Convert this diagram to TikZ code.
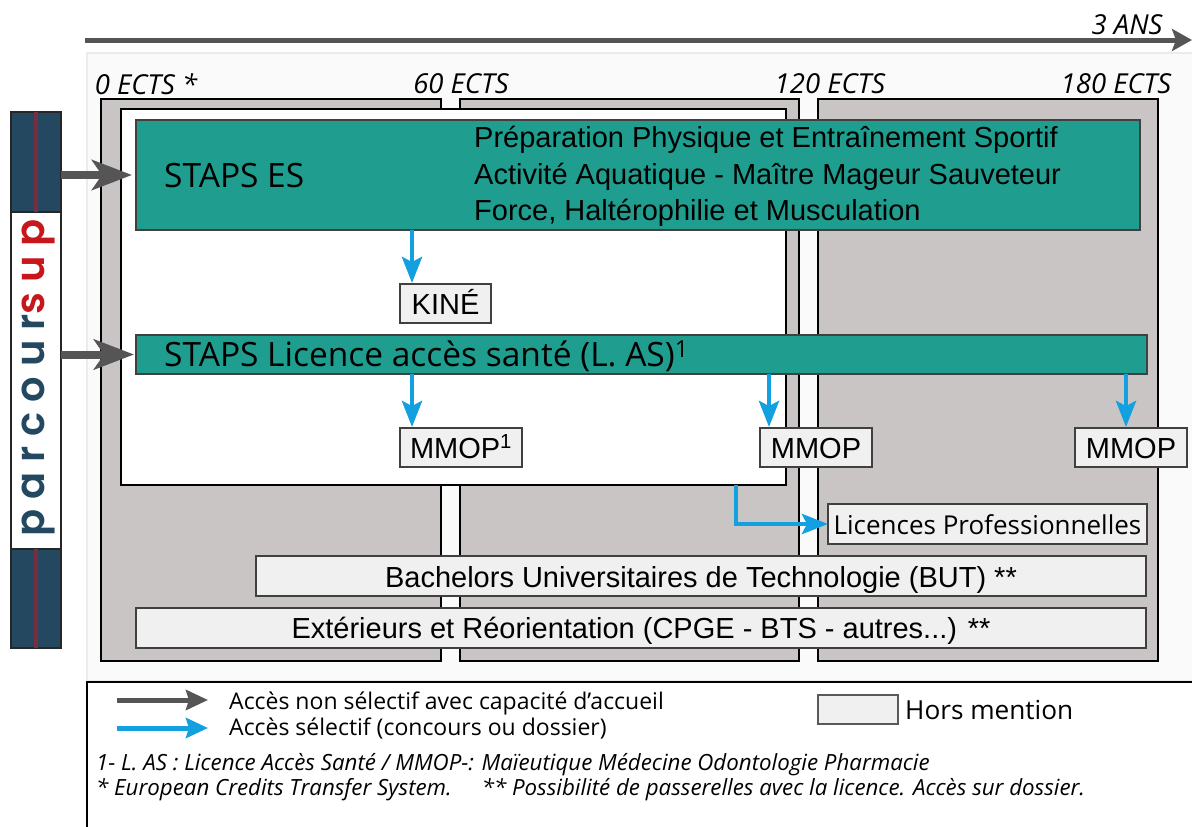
\documentclass[tikz,border=0pt]{standalone}
\usepackage{fontspec}
\setmainfont{Liberation Sans}
\newfontfamily\labelfont{Open Sans}
\newfontfamily\logofont[LetterSpace=25,BoldFont={Poppins SemiBold}]{Poppins}
\usetikzlibrary{arrows.meta}

\definecolor{columngray}{HTML}{C9C5C4}
\definecolor{panelgray}{HTML}{FAFAFA}
\definecolor{stapsgreen}{HTML}{1F9E8F}
\definecolor{mentiongray}{HTML}{F0F0F0}
\definecolor{accessgray}{HTML}{555555}
\definecolor{accessblue}{HTML}{12A0E0}
\definecolor{logoblue}{HTML}{24485F}
\definecolor{logored}{HTML}{C8161D}
\definecolor{logoline}{HTML}{7A2D3F}

\tikzset{
  plainbox/.style={draw,inner sep=0pt,outer sep=0pt,line width=2pt},
  column/.style={plainbox,fill=columngray},
  stapsbox/.style={plainbox,fill=stapsgreen,draw=black!75},
  mentionbox/.style={plainbox,fill=mentiongray,draw=black!75,text height=21pt,text depth=0pt,font=\fontsize{29}{34}\selectfont},
  logobox/.style={plainbox,fill=logoblue,draw=black!85},
  grayarrow/.style={accessgray,line width=8pt,-{Stealth[length=40pt,width=30pt,inset=10pt]}},
  bluearrow/.style={accessblue,line width=4.5pt,-{Stealth[length=26pt,width=20pt,inset=5pt]}},
  ectslabel/.style={inner sep=0pt,font=\labelfont\itshape\fontsize{27.5}{32}\selectfont},
  stapslabel/.style={inner sep=0pt,anchor=west,font=\labelfont\fontsize{33.5}{40}\selectfont},
  trainlabel/.style={inner sep=0pt,anchor=west,font=\fontsize{29}{34}\selectfont},
  legendlabel/.style={inner sep=0pt,anchor=west,font=\labelfont\fontsize{23}{28}\selectfont},
  notelabel/.style={inner sep=0pt,anchor=west,font=\labelfont\itshape\fontsize{22.3}{26}\selectfont},
}

\begin{document}
\begin{tikzpicture}[x=1pt,y=-1pt]
  \useasboundingbox (0,0) rectangle (1192,827);

  %% panels
  \node[plainbox,draw=black!8,fill=panelgray,minimum width=1110pt,minimum height=628pt] (panel) at (642,367) {};
  \node[plainbox,fill=white,minimum width=1110pt,minimum height=150pt] (legend) at (642,757) {};

  %% time line
  \coordinate (lineStart) at (85,40);
  \coordinate (lineEnd) at (1192,40);
  \draw[accessgray,line width=5pt,-{Stealth[length=20pt,width=22pt,inset=4pt]}] (lineStart) -- (lineEnd);
  \node[ectslabel] (years) at (1127,25) {3 ANS};

  %% columns
  \node[column,minimum width=340pt,minimum height=562pt] (first) at (271,380) {};
  \node[column,minimum width=339pt,minimum height=562pt] (second) at (629.5,380) {};
  \node[column,minimum width=340pt,minimum height=562pt] (third) at (988,380) {};
  \node[plainbox,fill=white,minimum width=665pt,minimum height=376pt] (inner) at (453.5,297) {};

  \node[ectslabel] (ectsA) at (146,84) {0 ECTS *};
  \node[ectslabel] (ectsB) at (461,84) {60 ECTS};
  \node[ectslabel] (ectsC) at (830,84) {120 ECTS};
  \node[ectslabel] (ectsD) at (1116,84) {180 ECTS};

  %% parcoursup
  \node[plainbox,fill=white,draw=black!85,minimum width=50pt,minimum height=536pt] (parcours) at (36,380) {};
  \node[logobox,minimum width=50pt,minimum height=100pt] (logoTop) at (36,162) {};
  \node[logobox,minimum width=50pt,minimum height=99pt] (logoBottom) at (36,598.5) {};
  \draw[logoline,line width=3.5pt] (logoTop.north) -- (logoTop.south);
  \draw[logoline,line width=3.5pt] (logoBottom.north) -- (logoBottom.south);
  \node[rotate=90,inner sep=0pt,font=\logofont\bfseries\fontsize{40}{48}\selectfont] (logo) at (39,378)
  {\textcolor{logoblue}{parcour}\textcolor{logored}{sup}};

  %% staps
  \node[stapsbox,minimum width=1004pt,minimum height=110pt] (stapsES) at (638,175) {};
  \node[stapsbox,minimum width=1011pt,minimum height=39pt] (stapsLAS) at (641.5,354.5) {};
  \node[stapslabel] (esLabel) at (164,176) {STAPS ES};
  \node[stapslabel] (lasLabel) at (164,356) {STAPS Licence accès santé (L. AS)\textsuperscript{1}};
  \node[trainlabel] (trainA) at (474,140) {Préparation Physique et Entraînement Sportif};
  \node[trainlabel] (trainB) at (474,177) {Activité Aquatique - Maître Mageur Sauveteur};
  \node[trainlabel] (trainC) at (474,213) {Force, Haltérophilie et Musculation};

  %% outcomes
  \node[mentionbox,minimum width=91pt,minimum height=39pt] (kine) at (445.5,303.5) {KINÉ};
  \node[mentionbox,minimum width=122pt,minimum height=39pt] (mmopA) at (461,447.5) {MMOP\textsuperscript{1}};
  \node[mentionbox,minimum width=112pt,minimum height=39pt] (mmopB) at (816,447.5) {MMOP};
  \node[mentionbox,minimum width=112pt,minimum height=39pt] (mmopC) at (1131,447.5) {MMOP};
  \node[mentionbox,minimum width=319pt,minimum height=40pt,font=\labelfont\fontsize{26}{30}\selectfont] (licpro) at (987.5,524) {Licences Professionnelles};
  \node[mentionbox,minimum width=890pt,minimum height=40pt,text height=23pt] (but) at (701,576) {Bachelors Universitaires de Technologie (BUT) **};
  \node[mentionbox,minimum width=1010pt,minimum height=40pt,text height=21pt] (other) at (641,628) {Extérieurs et Réorientation (CPGE - BTS - autres...) **};

  %% access arrows
  \draw[grayarrow,shorten >=4pt] (parcours.east |- stapsES) -- (stapsES.west);
  \draw[grayarrow,shorten >=2pt] (parcours.east |- stapsLAS) -- (stapsLAS.west);

  \coordinate (kineIn) at (412,284);
  \coordinate (mmopInA) at (412,428);
  \coordinate (mmopInB) at (769,428);
  \coordinate (mmopInC) at (1126,428);
  \coordinate (licproOut) at (736,485);
  \draw[bluearrow,shorten >=1pt] (stapsES.south -| kineIn) -- (kineIn);
  \draw[bluearrow,shorten >=1pt] (stapsLAS.south -| mmopInA) -- (mmopInA);
  \draw[bluearrow,shorten >=1pt] (stapsLAS.south -| mmopInB) -- (mmopInB);
  \draw[bluearrow,shorten >=1pt] (stapsLAS.south -| mmopInC) -- (mmopInC);
  \draw[bluearrow] (licproOut) |- (licpro.west);

  %% legend
  \coordinate (keyGrayA) at (117,700);
  \coordinate (keyGrayB) at (208,700);
  \coordinate (keyBlueA) at (117,728);
  \coordinate (keyBlueB) at (208,728);
  \draw[accessgray,line width=5pt,-{Stealth[length=22pt,width=20pt,inset=3pt]}] (keyGrayA) -- (keyGrayB);
  \draw[accessblue,line width=5pt,-{Stealth[length=22pt,width=20pt,inset=3pt]}] (keyBlueA) -- (keyBlueB);
  \node[legendlabel] (keyGray) at (229,703) {Accès non sélectif avec capacité d’accueil};
  \node[legendlabel] (keyBlue) at (229,729) {Accès sélectif (concours ou dossier)};
  \node[plainbox,fill=mentiongray,draw=black!65,minimum width=80pt,minimum height=29pt] (keyBox) at (858,709.5) {};
  \node[legendlabel,font=\labelfont\fontsize{26.2}{30}\selectfont] (keyMention) at (905,710) {Hors mention};
  \node[notelabel] (noteA) at (96,765) {1- L. AS : Licence Accès Santé / MMOP-: Maïeutique Médecine Odontologie Pharmacie};
  \node[notelabel] (noteB) at (96,790) {* European Credits Transfer System.\hspace{30pt}** Possibilité de passerelles avec la licence. Accès sur dossier.};

\end{tikzpicture}
\end{document}
